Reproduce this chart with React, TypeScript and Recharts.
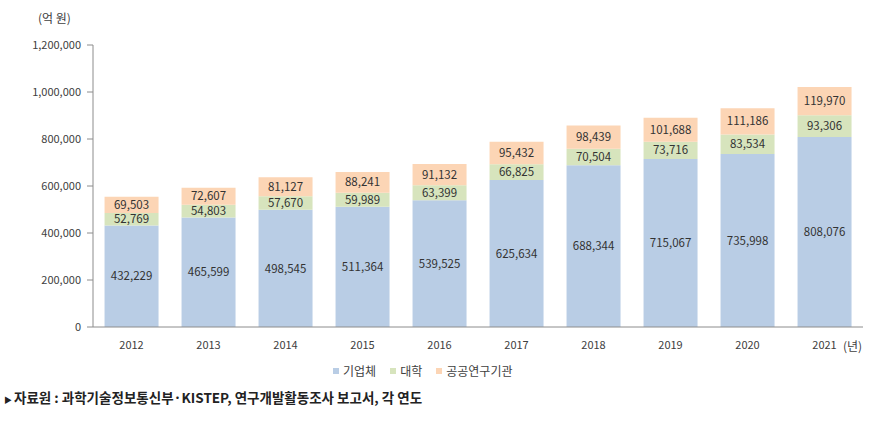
import { BarChart, Bar, XAxis, YAxis, LabelList } from "recharts";

const years = ["2012", "2013", "2014", "2015", "2016", "2017", "2018", "2019", "2020", "2021"];
const business = [432229, 465599, 498545, 511364, 539525, 625634, 688344, 715067, 735998, 808076];
const university = [52769, 54803, 57670, 59989, 63399, 66825, 70504, 73716, 83534, 93306];
const publicInst = [69503, 72607, 81127, 88241, 91132, 95432, 98439, 101688, 111186, 119970];
const yTicks = [0, 200000, 400000, 600000, 800000, 1000000, 1200000];

const series = [
    { key: "business", name: "기업체", color: "#b9cde5" },
    { key: "university", name: "대학", color: "#d7e4bd" },
    { key: "publicInst", name: "공공연구기관", color: "#fcd5b5" },
];

const data = years.map((year, i) => ({
    year,
    business: business[i],
    university: university[i],
    publicInst: publicInst[i],
}));

const FONT = "'Noto Sans CJK KR', 'Noto Sans', sans-serif";
const fmt = (v: any) => Number(v).toLocaleString("en-US");

export default function App() {
    return (
        <div style={{ position: "absolute", left: 0, top: 0, width: 876, height: 424, background: "#fff", fontFamily: FONT }}>
            <div style={{ position: "absolute", left: 38, top: 9, fontSize: 12, color: "#404040" }}>(억 원)</div>
            <div style={{ position: "absolute", left: 843, top: 337, fontSize: 12, color: "#404040" }}>(년)</div>
            <BarChart
                width={876}
                height={424}
                data={data}
                margin={{ top: 45, right: 13, left: 0, bottom: 67 }}
                barCategoryGap="15%"
            >
                <XAxis
                    dataKey="year"
                    axisLine={{ stroke: "#8c8c8c" }}
                    tickLine={false}
                    height={30}
                    tick={{ fontSize: 11, fill: "#404040", fontFamily: FONT }}
                    tickMargin={8}
                />
                <YAxis
                    width={93}
                    domain={[0, 1200000]}
                    ticks={yTicks}
                    interval={0}
                    axisLine={{ stroke: "#8c8c8c" }}
                    tickLine={{ stroke: "#8c8c8c" }}
                    tickSize={6}
                    tickMargin={6}
                    tickFormatter={fmt}
                    tick={{ fontSize: 11, fill: "#404040", fontFamily: FONT }}
                />
                {series.map((s) => (
                    <Bar key={s.key} dataKey={s.key} name={s.name} stackId="a" fill={s.color} isAnimationActive={false}>
                        <LabelList dataKey={s.key} position="center" formatter={fmt} style={{ fontSize: 11.5, fill: "#333", fontFamily: FONT }} />
                    </Bar>
                ))}
            </BarChart>
            <div style={{ position: "absolute", left: 333, top: 362, display: "flex", gap: 14, fontSize: 12, color: "#404040" }}>
                {series.map((s) => (
                    <div key={s.key} style={{ display: "flex", alignItems: "center", gap: 4 }}>
                        <span style={{ width: 6, height: 6, background: s.color, display: "inline-block" }} />
                        <span>{s.name}</span>
                    </div>
                ))}
            </div>
            <div style={{ position: "absolute", left: 4, top: 387, fontSize: 13.5, fontWeight: 700, color: "#222" }}>
                <span style={{ fontSize: 8, marginRight: 2 }}>▶</span>자료원 : 과학기술정보통신부·KISTEP, 연구개발활동조사 보고서, 각 연도
            </div>
        </div>
    );
}
